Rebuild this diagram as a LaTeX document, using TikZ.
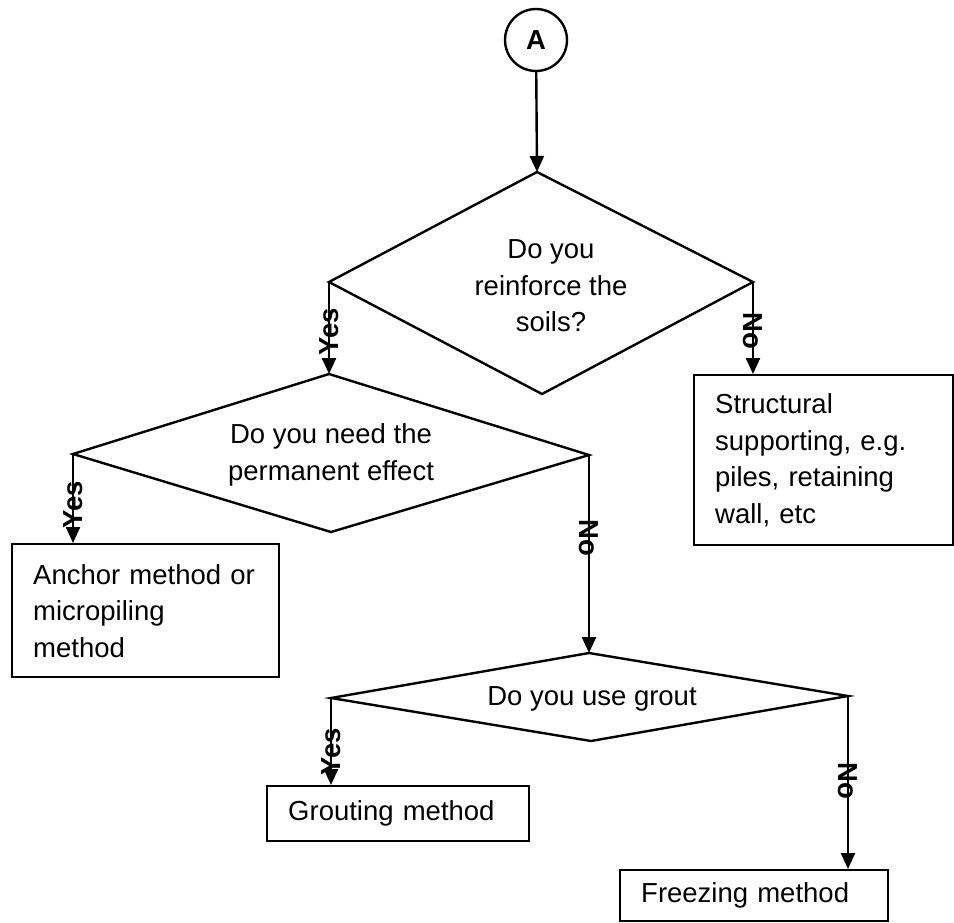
\documentclass[tikz,border=0pt]{standalone}
\usepackage{fontspec}
\setmainfont{Liberation Sans}
\usetikzlibrary{arrows.meta}
\begin{document}
\begin{tikzpicture}[x=1pt,y=-1pt,
  line width=2.4pt,
  txt/.style={font=\fontsize{27.5}{36.5}\selectfont, inner sep=0pt},
  boxnode/.style={draw, line width=2.4pt, anchor=north west, align=left, inner ysep=0pt, inner xsep=21pt,
     font=\fontsize{27.5}{36.5}\selectfont},
  arr/.style={-{Triangle[length=16pt,width=14pt]}, line width=2.4pt},
  lab/.style={font=\bfseries\fontsize{27.5}{30}\selectfont, inner sep=0pt},
  dia/.style={draw, line width=2.4pt, line join=miter}
]
\useasboundingbox (0,0) rectangle (954,922);

% connector circle
\node[draw, circle, minimum size=62pt, inner sep=0pt, font=\bfseries\fontsize{27.5}{30}\selectfont] (A) at (536,40) {A};

% diamond 1
\coordinate (d1t) at (537,172);
\coordinate (d1l) at (329,282);
\coordinate (d1r) at (753,282);
\coordinate (d1b) at (542,394);
\draw[dia] (d1t) -- (d1r) -- (d1b) -- (d1l) -- cycle;
\node[txt, align=center] (q1) at (551,286) {Do you\\reinforce the\\soils?};

% diamond 2
\coordinate (d2t) at (329,374);
\coordinate (d2l) at (73,454);
\coordinate (d2r) at (589,455);
\coordinate (d2b) at (331,532);
\draw[dia] (d2t) -- (d2r) -- (d2b) -- (d2l) -- cycle;
\node[txt, align=center] (q2) at (331,455) {Do you need the\\permanent effect};

% diamond 3
\coordinate (d3t) at (589,653);
\coordinate (d3l) at (331,698);
\coordinate (d3r) at (848,696);
\coordinate (d3b) at (591,741);
\draw[dia] (d3t) -- (d3r) -- (d3b) -- (d3l) -- cycle;
\node[txt, align=center] (q3) at (592,699) {Do you use grout};

% boxes
\node[boxnode, text width=217pt, minimum height=170pt] (str) at (693,374)
  {Structural\\supporting, e.g.\\piles, retaining\\wall, etc};
\node[boxnode, text width=225pt, minimum height=133pt] (anc) at (11,543)
  {Anchor method or\\micropiling\\method};
\node[boxnode, text width=220pt, minimum height=55pt] (gro) at (266,785)
  {Grouting method};
\node[boxnode, text width=226pt, minimum height=51pt] (fre) at (619,869)
  {Freezing method};

% connectors
\draw[arr] (A) -- (d1t);
\draw[arr] (d1l) -- (d2t) node[lab, pos=0.54, rotate=90] (y1) {Yes};
\draw[arr] (d1r) -- (d1r |- str.north) node[lab, pos=0.53, rotate=-90] (n1) {No};
\draw[arr] (d2l) -- (d2l |- anc.north) node[lab, pos=0.57, rotate=90] (y2) {Yes};
\draw[arr] (d2r) -- (d3t) node[lab, pos=0.42, rotate=-90] (n2) {No};
\draw[arr] (d3l) -- (d3l |- gro.north) node[lab, pos=0.62, rotate=90] (y3) {Yes};
\draw[arr] (d3r) -- (d3r |- fre.north) node[lab, pos=0.49, rotate=-90] (n3) {No};
\end{tikzpicture}
\end{document}
